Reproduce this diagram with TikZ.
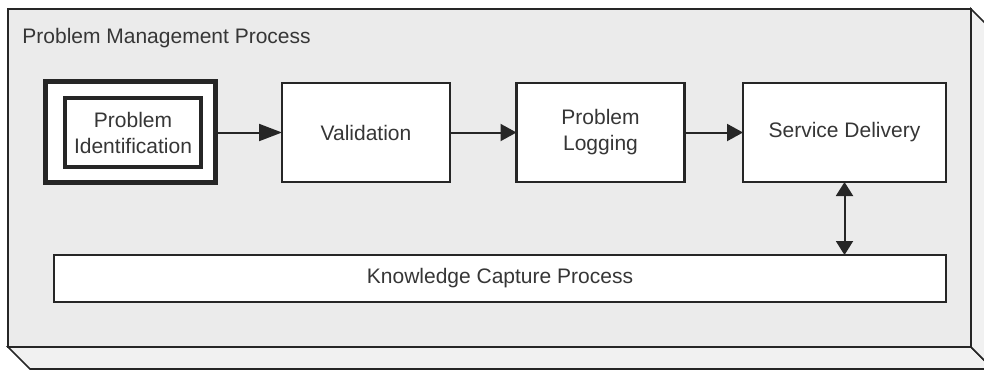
\documentclass[tikz,border=0pt]{standalone}
\usepackage{fontspec}
\setmainfont{Liberation Sans}
\usetikzlibrary{arrows.meta,positioning}
\definecolor{slab}{HTML}{EBEBEB}
\definecolor{slabside}{HTML}{F1F1F1}
\definecolor{ink}{HTML}{262626}
\definecolor{txt}{HTML}{363636}
\tikzset{
	procbox/.style={draw=ink, line width=1.2pt, fill=white, minimum width=84pt,
		minimum height=49.5pt, inner sep=0pt, outer sep=0pt, align=center,
		text=txt, font=\fontsize{10.5}{13}\selectfont},
	flow/.style={draw=ink, line width=1pt, -{Triangle[length=8pt,width=8.5pt]}},
}
\begin{document}
\begin{tikzpicture}[x=0.5pt,y=-0.5pt]
		\useasboundingbox (0,0) rectangle (984,371);
		\clip (0,0) rectangle (984,371);
		% slab with its two visible sides
		\filldraw[fill=slabside, draw=ink, line width=0.8pt] (8,347) -- (30,369) -- (993,369) -- (971,347) -- cycle;
		\filldraw[fill=slabside, draw=ink, line width=0.8pt] (971,9) -- (993,31) -- (993,369) -- (971,347) -- cycle;
		\filldraw[fill=slab, draw=ink, line width=1.2pt] (8,9) rectangle (971,347);
		\node[anchor=base west, inner sep=0pt, text=txt, font=\fontsize{10.5}{13}\selectfont] (title) at (22,43) {Problem Management Process};
		% steps
		\node[procbox, line width=2.5pt, minimum width=85pt, minimum height=50.5pt] (ident) at (130.5,132) {};
		\node[procbox, line width=2pt, minimum width=68pt, minimum height=34.5pt] (identin) at (133,132.5) {Problem\\Identification};
		\node[procbox] (valid) at (366,132.5) {Validation};
		\node[procbox] (logging) at (600.5,132.5) {Problem\\Logging};
		\node[procbox, minimum width=101.5pt] (service) at (844.5,132.5) {Service Delivery};
		\node[procbox, minimum width=446pt, minimum height=23.5pt] (capture) at (500,278.5) {Knowledge Capture Process};
		% connectors
		\draw[flow, -{Triangle[length=11.5pt,width=8.5pt]}] (ident.east |- valid.west) -- (valid.west);
		\draw[flow] (valid) -- (logging);
		\draw[flow] (logging) -- (service);
		\draw[flow, {Triangle[length=7pt,width=8.5pt]}-{Triangle[length=7pt,width=8.5pt]}] (service.south) -- (service.south |- capture.north);
	\end{tikzpicture}
\end{document}
